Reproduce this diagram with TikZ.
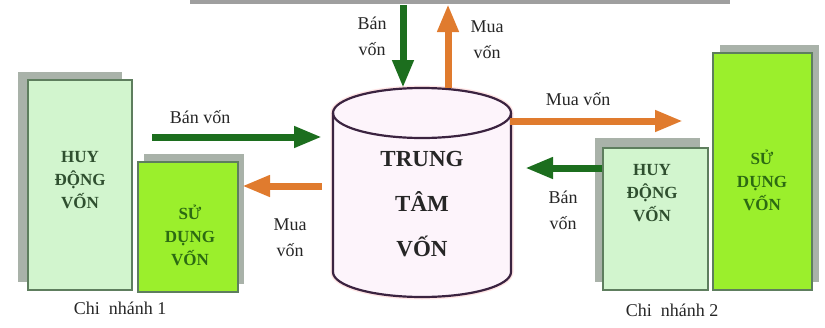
\documentclass[tikz,border=0pt]{standalone}
\usepackage{fontspec}
\setmainfont{Liberation Serif}
\usetikzlibrary{arrows.meta}
\definecolor{xanhnhat}{HTML}{D2F5CE}
\definecolor{xanhdam}{HTML}{9BEF2C}
\definecolor{vienxanh}{HTML}{5E7E5E}
\definecolor{mauBong}{HTML}{A9B2A9}
\definecolor{muiBan}{HTML}{1C6E1E}
\definecolor{muiMua}{HTML}{E07B2E}
\definecolor{chuxanh}{HTML}{2F4F2F}
\definecolor{chuxanhdam}{HTML}{2C6A12}
\definecolor{vientru}{HTML}{3B2340}
\definecolor{nentru}{HTML}{FDF4FB}

\begin{document}
\begin{tikzpicture}[x=1pt, y=-1pt,
    hop/.style={draw=vienxanh, line width=2pt, inner sep=0pt},
    chu/.style={align=center, font=\fontsize{17}{23}\selectfont\bfseries, inner sep=0pt},
    nhan/.style={align=center, font=\fontsize{18}{26}\selectfont, inner sep=0pt, text=black!85},
    ban/.style={muiBan, line width=7pt, -{Triangle[length=28pt,width=20pt]}},
    mua/.style={muiMua, line width=7pt, -{Triangle[length=28pt,width=20pt]}}]
  \useasboundingbox (0,0) rectangle (825,327);

  % thanh xám phía trên (bị cắt)
  \fill[gray!75] (190,0) rectangle (730,4);

  % bóng của các hộp
  \fill[mauBong] (18,72) rectangle (122,282);
  \fill[mauBong] (144,154) rectangle (244,284);
  \fill[mauBong] (595,138) rectangle (700,282);
  \fill[mauBong] (720,45) rectangle (819,282);

  % chi nhánh 1
  \node[hop, fill=xanhnhat, minimum width=104pt, minimum height=210pt] (huy1) at (80,185) {};
  \node[hop, fill=xanhdam, minimum width=100pt, minimum height=130pt] (su1) at (188,227) {};
  \node[chu, text=chuxanh] (huy1t) at (80,180) {HUY\\ĐỘNG\\VỐN};
  \node[chu, text=chuxanhdam] (su1t) at (190,235) {SỬ\\DỤNG\\VỐN};
  \node[nhan] (cn1) at (120,308) {Chi\ \ nhánh 1};

  % chi nhánh 2
  \node[hop, fill=xanhnhat, minimum width=105pt, minimum height=142pt] (huy2) at (655,219) {};
  \node[hop, fill=xanhdam, minimum width=99pt, minimum height=237pt] (su2) at (762,171) {};
  \node[chu, text=chuxanh] (huy2t) at (652,193) {HUY\\ĐỘNG\\VỐN};
  \node[chu, text=chuxanhdam] (su2t) at (762,180) {SỬ\\DỤNG\\VỐN};
  \node[nhan] (cn2) at (672,310) {Chi\ \ nhánh 2};

  % trung tâm vốn (hình trụ)
  \draw[pink!40, line width=5pt] (333,113) -- (333,272) arc[start angle=180, end angle=0, x radius=89, y radius=25]
    -- (511,113) arc[start angle=0, end angle=-180, x radius=89, y radius=25] -- cycle;
  \fill[nentru] (333,113) -- (333,272) arc[start angle=180, end angle=0, x radius=89, y radius=25]
    -- (511,113) arc[start angle=0, end angle=-180, x radius=89, y radius=25] -- cycle;
  \draw[vientru, line width=2.2pt] (333,113) -- (333,272) arc[start angle=180, end angle=0, x radius=89, y radius=25] -- (511,113);
  \draw[vientru, line width=2.2pt] (422,113) ellipse[x radius=89, y radius=25];
  \node[align=center, font=\fontsize{23}{45}\selectfont\bfseries, text=black!85] (tt) at (422,204) {TRUNG\\TÂM\\VỐN};

  % điểm đầu, điểm cuối các mũi tên
  \coordinate (tren1) at (403,5);    \coordinate (tru1) at (403,88);
  \coordinate (tru2) at (448,88);    \coordinate (tren2) at (448,4);
  \coordinate (trai1) at (152,137);  \coordinate (tru3) at (322,137);
  \coordinate (tru4) at (322,186);   \coordinate (trai2) at (242,186);
  \coordinate (tru5) at (510,121);   \coordinate (phai1) at (683,121);
  \coordinate (phai2) at (602,168);  \coordinate (tru6) at (525,168);

  \draw[ban] (tren1) -- (tru1);
  \draw[mua] (tru2) -- (tren2);
  \draw[ban] (trai1) -- (tru3);
  \draw[mua] (tru4) -- (trai2);
  \draw[mua] (tru5) -- (phai1);
  \draw[ban] (phai2) -- (tru6);

  % nhãn
  \node[nhan] (n1) at (372,36) {Bán\\vốn};
  \node[nhan] (n2) at (487,40) {Mua\\vốn};
  \node[nhan] (n3) at (200,117) {Bán vốn};
  \node[nhan] (n4) at (290,238) {Mua\\vốn};
  \node[nhan] (n5) at (578,99) {Mua vốn};
  \node[nhan] (n6) at (563,210) {Bán\\vốn};

\end{tikzpicture}
\end{document}
